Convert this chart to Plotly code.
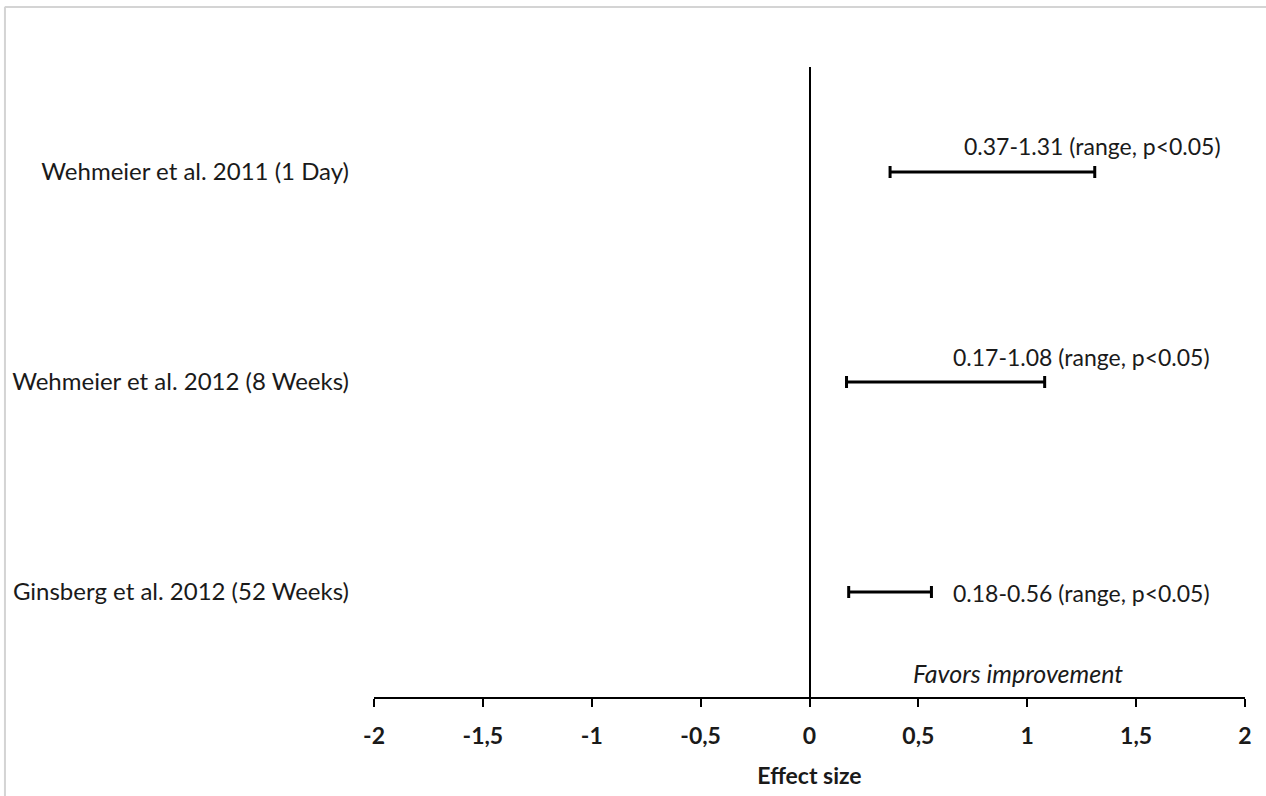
import plotly.graph_objects as go

studies = ["Wehmeier et al. 2011 (1 Day)", "Wehmeier et al. 2012 (8 Weeks)", "Ginsberg et al. 2012 (52 Weeks)"]
lower = [0.37, 0.17, 0.18]
upper = [1.31, 1.08, 0.56]
range_labels = ["0.37-1.31 (range, p<0.05)", "0.17-1.08 (range, p<0.05)", "0.18-0.56 (range, p<0.05)"]
tick_vals = [-2, -1.5, -1, -0.5, 0, 0.5, 1, 1.5, 2]
tick_text = ["-2", "-1,5", "-1", "-0,5", "0", "0,5", "1", "1,5", "2"]

FONT = "Lato"
FS = 23
TXT = "#1a1a1a"
mid = [(l + u) / 2 for l, u in zip(lower, upper)]
half = [(u - l) / 2 for l, u in zip(lower, upper)]

fig = go.Figure()
fig.add_trace(go.Scatter(
    x=mid, y=studies, mode="markers",
    marker=dict(size=0.1, color="black", opacity=0),
    error_x=dict(type="data", array=half, symmetric=True, color="black", thickness=3, width=6),
    showlegend=False, hoverinfo="skip",
))

label_pos = [(0.70, 26), (0.65, 25), (0.65, -1)]
for lab, s, (lx, ys) in zip(range_labels, studies, label_pos):
    fig.add_annotation(x=lx, y=s, text=lab, showarrow=False, xanchor="left", yanchor="middle",
                       yshift=ys, font=dict(family=FONT, size=FS, color=TXT))

fig.add_annotation(x=0.957, y=0.038, xref="x", yref="paper", yanchor="middle",
                   text="<i>Favors improvement</i>", showarrow=False,
                   font=dict(family=FONT, size=25, color=TXT))

# outer frame (top and left edges)
fig.add_shape(type="line", xref="paper", yref="paper", x0=-0.424, x1=1.03, y0=1.0952, y1=1.0952,
              line=dict(color="#d4d4d4", width=2))
fig.add_shape(type="line", xref="paper", yref="paper", x0=-0.4237, x1=-0.4237, y0=-0.2, y1=1.0952,
              line=dict(color="#d4d4d4", width=2))

fig.update_layout(
    width=1266, height=796,
    margin=dict(l=374, r=21, t=67, b=99),
    paper_bgcolor="white", plot_bgcolor="white",
    font=dict(family=FONT, size=FS, color=TXT),
    xaxis=dict(range=[-2, 2], tickvals=tick_vals, ticktext=tick_text, showgrid=False,
               zeroline=True, zerolinecolor="black", zerolinewidth=1.5,
               showline=True, linecolor="black", linewidth=1.5,
               ticks="outside", ticklen=8, tickwidth=1.5, tickcolor="black",
               ticklabelstandoff=10,
               tickfont=dict(family=FONT, size=FS, color=TXT, weight="bold"),
               title=dict(text="<b>Effect size</b>", font=dict(family=FONT, size=FS), standoff=20),
               fixedrange=True),
    yaxis=dict(type="category", range=[2.5, -0.5], showgrid=False, zeroline=False,
               showline=False, ticks="", ticklabelstandoff=24,
               tickfont=dict(family=FONT, size=24, color=TXT), fixedrange=True),
)

fig.write_html("out.html", config={"displayModeBar": False},
               post_script="document.body.style.margin='0px';")
